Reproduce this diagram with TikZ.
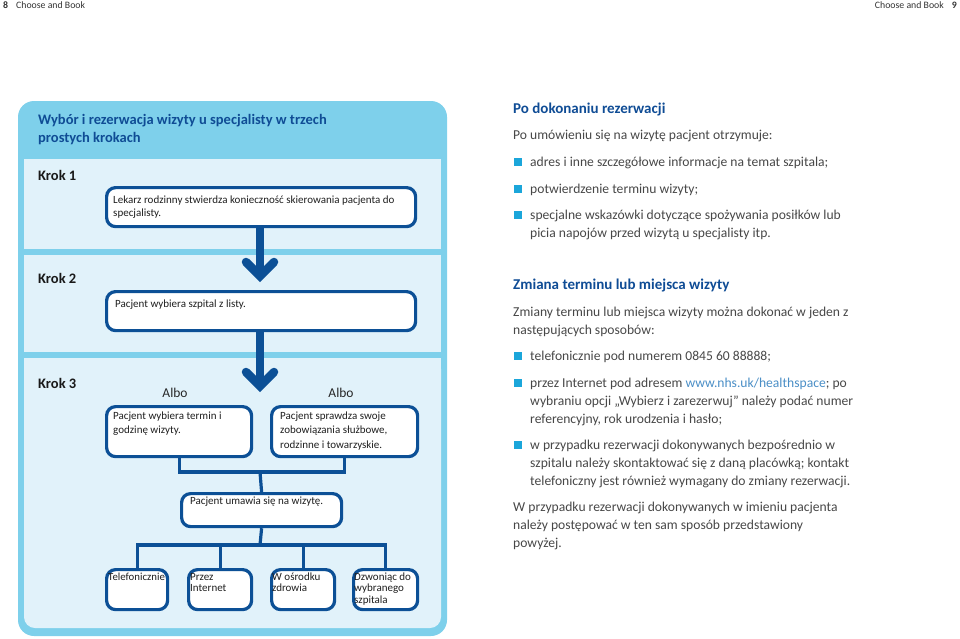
\documentclass[tikz,border=0pt]{standalone}
\usepackage{fontspec}
\setmainfont{Carlito}
\definecolor{dblue}{HTML}{0C5096}
\definecolor{hblue}{HTML}{0F4C95}
\definecolor{cyanp}{HTML}{7ED0EB}
\definecolor{lightp}{HTML}{E1F2FA}
\definecolor{bcyan}{HTML}{1BA6DA}
\definecolor{bodyg}{HTML}{474747}
\definecolor{urlc}{HTML}{4A8EC6}
\newcommand\mlines[1]{\parbox[t]{420pt}{\raggedright #1}}
\begin{document}
\begin{tikzpicture}[x=1pt,y=-1pt,
  box/.style={draw=dblue, line width=3.2pt, fill=white, rounded corners=9pt, inner sep=0pt, anchor=north west},
  conn/.style={draw=dblue, line width=3.2pt},
  shaft/.style={draw=dblue, line width=8.5pt},
  chev/.style={draw=dblue, line width=8.5pt, line cap=round, line join=miter},
  txt/.style={anchor=base west, inner sep=0pt},
  boxtxt/.style={txt, font=\fontsize{11}{13.5}\selectfont, text=black!88},
  steplbl/.style={txt, font=\bfseries\fontsize{14.5}{16}\selectfont, text=black!90},
  albo/.style={anchor=base, inner sep=0pt, font=\fontsize{13.5}{15}\selectfont, text=black!85},
  head/.style={txt, font=\bfseries\fontsize{15}{18}\selectfont, text=hblue},
  body/.style={txt, font=\fontsize{13.6}{18}\selectfont, text=bodyg},
  bullet/.style={fill=bcyan, minimum size=8pt, inner sep=0pt},
  pagehdr/.style={inner sep=0pt, font=\fontsize{9.8}{11}\selectfont, text=black!80}
]
\useasboundingbox (0,0) rectangle (960,638);

% page header
\node[pagehdr, anchor=base west] (pn8) at (3,8) {\textbf{8}\hspace{8pt}Choose and Book};
\node[pagehdr, anchor=base east] (pn9) at (957,8) {Choose and Book\hspace{8pt}\textbf{9}};

% panels
\fill[cyanp, rounded corners=16pt] (18,101) rectangle (447,636);
\fill[lightp] (24,159) rectangle (441,249);
\fill[lightp] (24,255) rectangle (441,352);
\fill[lightp, rounded corners=11pt] (24,358) rectangle (441,628);
\fill[lightp] (24,358) rectangle (441,400);

\node[head, font=\bfseries\fontsize{14.5}{18}\selectfont] (title) at (38,124) {\mlines{Wybór i rezerwacja wizyty u specjalisty w trzech\\prostych krokach}};
\node[steplbl] (k1) at (38,180) {Krok 1};
\node[steplbl] (k2) at (38,283) {Krok 2};
\node[steplbl] (k3) at (38,388) {Krok 3};

% arrows
\draw[shaft] (260,225) -- (260,272);
\draw[chev] (246,262) -- (260,276) -- (274,262);
\draw[shaft] (260,329) -- (260,382);
\draw[chev] (246,372) -- (260,386) -- (274,372);

% boxes
\node[box, minimum width=309pt, minimum height=39pt] (b1) at (105,186) {};
\node[boxtxt] (t1) at (113,203) {\mlines{Lekarz rodzinny stwierdza konieczność skierowania pacjenta do\\specjalisty.}};

\node[box, minimum width=309pt, minimum height=39pt] (b2) at (105,290) {};
\node[boxtxt] (t2) at (115,307) {Pacjent wybiera szpital z listy.};

\node[albo] (al1) at (175,397) {Albo};
\node[albo] (al2) at (341,397) {Albo};

\node[box, minimum width=145pt, minimum height=50pt] (b3a) at (105,405) {};
\node[boxtxt, font=\fontsize{11}{14.5}\selectfont] (t3a) at (113,419) {\mlines{Pacjent wybiera termin i\\godzinę wizyty.}};
\node[box, minimum width=146pt, minimum height=50pt] (b3b) at (270,405) {};
\node[boxtxt, font=\fontsize{11}{14.5}\selectfont] (t3b) at (280,419) {\mlines{Pacjent sprawdza swoje\\zobowiązania służbowe,\\rodzinne i towarzyskie.}};

\node[box, minimum width=160pt, minimum height=33pt] (b4) at (180,492) {};
\node[boxtxt] (t4) at (190,504) {Pacjent umawia się na wizytę.};

\node[box, minimum width=61pt, minimum height=40pt] (c1) at (105,568) {};
\node[box, minimum width=63pt, minimum height=40pt] (c2) at (187,568) {};
\node[box, minimum width=63pt, minimum height=40pt] (c3) at (270,568) {};
\node[box, minimum width=64pt, minimum height=40pt] (c4) at (352,568) {};
\node[boxtxt, font=\fontsize{10.8}{11.8}\selectfont] (tc1) at (108,580) {Telefonicznie};
\node[boxtxt, font=\fontsize{11}{11.8}\selectfont] (tc2) at (190,580) {\mlines{Przez\\Internet}};
\node[boxtxt, font=\fontsize{11}{11.8}\selectfont] (tc3) at (272,580) {\mlines{W ośrodku\\zdrowia}};
\node[boxtxt, font=\fontsize{11}{11.8}\selectfont] (tc4) at (354,580) {\mlines{Dzwoniąc do\\wybranego\\szpitala}};

% connectors
\coordinate (j1) at (260,472);
\coordinate (j2) at (260,545);
\draw[conn] (b3a.south) |- (j1) -| (b3b.south);
\draw[conn] (j1) -- (b4.north);
\draw[conn] (b4.south) -- (j2);
\draw[conn] (c1.north) |- (j2) -| (c4.north);
\draw[conn] (c2.north) -- (c2.north |- j2);
\draw[conn] (c3.north) -- (c3.north |- j2);

% right column
\node[head] (h1) at (513,113) {Po dokonaniu rezerwacji};
\node[body] (p1) at (513,139) {Po umówieniu się na wizytę pacjent otrzymuje:};
\node[bullet] (q1) at (518,162) {};
\node[body] (i1) at (530,166) {adres i inne szczegółowe informacje na temat szpitala;};
\node[bullet] (q2) at (518,189) {};
\node[body] (i2) at (530,193) {potwierdzenie terminu wizyty;};
\node[bullet] (q3) at (518,215) {};
\node[body] (i3) at (530,219) {\mlines{specjalne wskazówki dotyczące spożywania posiłków lub\\picia napojów przed wizytą u specjalisty itp.}};

\node[head] (h2) at (513,289) {Zmiana terminu lub miejsca wizyty};
\node[body] (p2) at (513,316) {\mlines{Zmiany terminu lub miejsca wizyty można dokonać w jeden z\\następujących sposobów:}};
\node[bullet] (q4) at (518,356) {};
\node[body] (i4) at (530,360) {telefonicznie pod numerem 0845 60 88888;};
\node[bullet] (q5) at (518,383) {};
\node[body] (i5) at (530,387) {\mlines{przez Internet pod adresem \textcolor{urlc}{www.nhs.uk/healthspace}; po\\wybraniu opcji „Wybierz i zarezerwuj” należy podać numer\\referencyjny, rok urodzenia i hasło;}};
\node[bullet] (q6) at (518,445) {};
\node[body] (i6) at (530,449) {\mlines{w przypadku rezerwacji dokonywanych bezpośrednio w\\szpitalu należy skontaktować się z daną placówką; kontakt\\telefoniczny jest również wymagany do zmiany rezerwacji.}};
\node[body] (p3) at (513,511) {\mlines{W przypadku rezerwacji dokonywanych w imieniu pacjenta\\należy postępować w ten sam sposób przedstawiony\\powyżej.}};
\end{tikzpicture}
\end{document}
